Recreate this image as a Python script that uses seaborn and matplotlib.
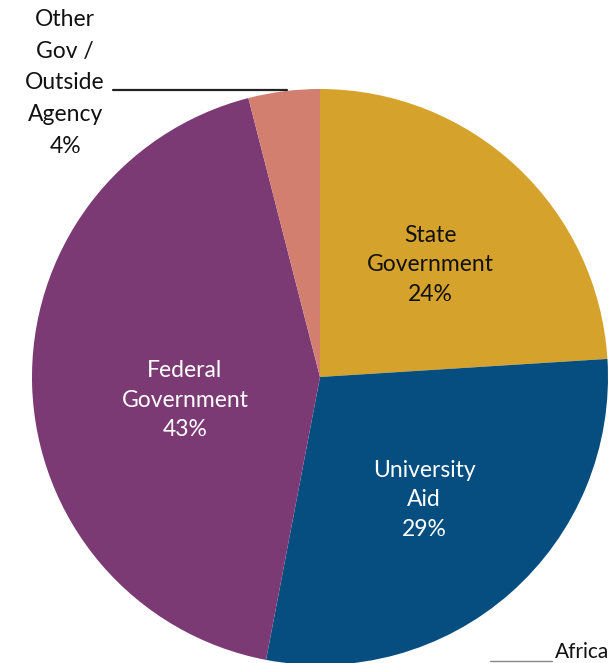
import matplotlib
matplotlib.use("Agg")
import matplotlib.pyplot as plt
import seaborn as sns

# Funding sources
categories = ["State\nGovernment", "University\nAid", "Federal\nGovernment", "Other\nGov /\nOutside\nAgency"]
shares = [24, 29, 43, 4]
colors = ["#D5A32C", "#054E7F", "#7C3A75", "#D27F70"]
text_colors = ["#111111", "white", "white", "#111111"]
line_gaps = [1.52, 1.52, 1.52, 1.62]

sns.set_theme(style="white")
plt.rcParams["font.family"] = ["Lato", "DejaVu Sans"]

fig = plt.figure(figsize=(6.08, 6.63), dpi=100)
ax = fig.add_axes([0, 0, 1, 1])

wedges, _ = ax.pie(shares, colors=colors, startangle=90, counterclock=False,
                   radius=1.0, center=(0, 0),
                   wedgeprops=dict(linewidth=0))

ax.set_xlim(-320 / 288, 288 / 288)
ax.set_ylim(-286 / 288, 377 / 288)
ax.set_aspect("equal")
ax.axis("off")

label_pos = [(0.382, 0.389), (0.361, -0.427), (-0.469, -0.080), (-0.885, 1.021)]
for name, val, (x, y), tc, ls in zip(categories, shares, label_pos, text_colors, line_gaps):
    ax.text(x, y, f"{name}\n{val}%", ha="center", va="center", color=tc,
            fontsize=16.5, linespacing=ls)

# leader line for the small slice
ax.plot([-0.719, -0.115], [0.997, 0.997], color="#222222", lw=1.6)

# partially visible label at the lower right
ax.plot([0.59, 0.805], [-0.985, -0.985], color="#888888", lw=1.0)
ax.text(0.815, -0.99, "African", ha="left", va="bottom", color="#111111", fontsize=15)

fig.savefig("out.png", dpi=100)
